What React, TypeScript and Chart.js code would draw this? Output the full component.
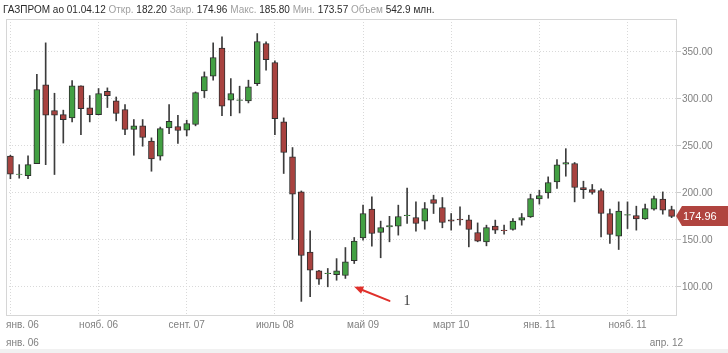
import { useEffect, useRef } from 'react';
import { Chart, registerables } from 'chart.js';

Chart.register(...registerables);

const months = [
  '01.06','02.06','03.06','04.06','05.06','06.06','07.06','08.06','09.06','10.06','11.06','12.06',
  '01.07','02.07','03.07','04.07','05.07','06.07','07.07','08.07','09.07','10.07','11.07','12.07',
  '01.08','02.08','03.08','04.08','05.08','06.08','07.08','08.08','09.08','10.08','11.08','12.08',
  '01.09','02.09','03.09','04.09','05.09','06.09','07.09','08.09','09.09','10.09','11.09','12.09',
  '01.10','02.10','03.10','04.10','05.10','06.10','07.10','08.10','09.10','10.10','11.10','12.10',
  '01.11','02.11','03.11','04.11','05.11','06.11','07.11','08.11','09.11','10.11','11.11','12.11',
  '01.12','02.12','03.12','04.12',
];

const openS = [
  239, 219.5, 218.4, 231, 315, 287.6, 283.3, 279.8, 313.8, 290.4, 283.3, 308,
  298, 288.7, 267.4, 271.3, 255, 239, 269, 270.6, 266.7, 272.7, 308.5, 324.1,
  354, 298.6, 298.4, 297.9, 316.3, 358.9, 338.7, 275.5, 238.3, 201, 136.9, 117,
  114.0, 112.8, 112, 127.7, 152, 182.6, 157.8, 163.8, 164.5, 175.6, 173.8, 169.9,
  192.9, 184.4, 171.3, 172, 171.3, 157.8, 147.9, 164.5, 160.4, 161, 170.9, 174.5,
  193.6, 200, 211.7, 230.5, 231.2, 205.7, 203.5, 202.5, 178, 153.9, 176.3, 175.9,
  172.3, 182.6, 193.3, 182.2,
];
const highS = [
  240, 230, 239.4, 326, 359.6, 306, 288, 319.5, 314, 303.5, 311, 311.7,
  302, 294, 278, 278, 258.5, 270, 294, 282.6, 277.3, 307.4, 328.7, 359.6,
  366, 321.6, 313.5, 319.9, 369.5, 360.6, 340.4, 279.8, 248.2, 202, 159.6, 117.5,
  119.5, 130, 141.8, 152.5, 186.9, 195.7, 169.9, 175, 186.9, 205, 190.4, 189.7,
  197.5, 195, 178, 185, 176.2, 168, 165.6, 171, 165.6, 172.7, 178, 198.6,
  202.8, 217, 235.5, 247, 232.3, 212.4, 208.9, 204.3, 182.6, 190.4, 190.4, 185.8,
  188, 196.5, 201, 185.8,
];
const lowS = [
  215, 215.6, 215, 231, 230, 219.5, 253, 275.5, 262, 275.5, 283, 290.8,
  276.6, 262, 240, 249.6, 223, 234.8, 263, 252.5, 260.6, 271.3, 301.4, 319.9,
  282, 282, 285, 295.7, 314.2, 330.5, 262, 220.6, 150.4, 84.5, 89.4, 102.5,
  100, 107, 108.9, 124.8, 149.6, 143.3, 130.9, 147.9, 155, 167.4, 159.2, 161.3,
  178, 162.8, 160.3, 165.6, 142.5, 147.9, 143.6, 156.7, 156, 160.3, 165.6, 173.8,
  188, 194.3, 204.6, 217.7, 190.4, 194, 198.6, 153.2, 146.1, 139.7, 162, 160.3,
  171.6, 181.6, 177.3, 173.57,
];
const closeS = [
  220, 219.9, 230, 310, 282.6, 282.6, 278, 313.8, 289.7, 283.3, 305.7, 303.5,
  284.4, 267.4, 271.3, 258.9, 236, 268.4, 276, 266.3, 273.8, 306.7, 323.8, 344,
  292.2, 305.7, 299, 312.8, 361, 341.8, 279, 242.9, 198.6, 133.3, 117.7, 108.2,
  114.6, 117, 126.6, 148.6, 178, 156.7, 163.1, 165.2, 174.8, 176.4, 167.4, 183.3,
  188.7, 168.4, 169.9, 171.2, 161, 148.6, 163.1, 160.3, 159.7, 169.9, 173.8, 194,
  197.2, 211, 229.8, 232.3, 205.7, 203.5, 200.4, 178, 155.7, 180.5, 176.9, 172.3,
  183.3, 194, 181.6, 174.96,
];

const xTickMonths = ['01.06', '11.06', '09.07', '07.08', '05.09', '03.10', '01.11', '11.11'];
const xTickText = ['янв. 06', 'нояб. 06', 'сент. 07', 'июль 08', 'май 09', 'март 10', 'янв. 11', 'нояб. 11'];
const yTicks = [100, 150, 200, 250, 300, 350];
const rangeStartText = 'янв. 06';
const rangeEndText = 'апр. 12';

const headerParts: [string, boolean][] = [
  ['ГАЗПРОМ ао 01.04.12 ', true],
  ['Откр. ', false],
  ['182.20 ', true],
  ['Закр. ', false],
  ['174.96 ', true],
  ['Макс. ', false],
  ['185.80 ', true],
  ['Мин. ', false],
  ['173.57 ', true],
  ['Объем ', false],
  ['542.9 млн.', true],
];

// annotation: arrow tail and label anchored to (month, value)
const noteText = '1';
const noteTip = { month: '04.09', value: 100 };
const noteTail = { month: '08.09', value: 85 };
const noteLabel = { month: '10.09', value: 85 };

const FONT = '"Liberation Sans", Arial, sans-serif';
const GREEN = '#43a043';
const RED = '#a8423f';
const GRID = '#d9d9d9';

const overlay = {
  id: 'overlay',
  beforeDraw(chart: any) {
    const c = chart.ctx;
    c.save();
    c.fillStyle = '#f1f1f1';
    c.fillRect(0, 349, chart.width, chart.height - 349);
    c.restore();
  },
  afterDraw(chart: any) {
    const c = chart.ctx;
    const a = chart.chartArea;
    const xs = chart.scales.x;
    const ys = chart.scales.y;
    c.save();
    // frame
    c.strokeStyle = '#d6d6d6';
    c.lineWidth = 1;
    c.strokeRect(Math.round(a.left) + 0.5, Math.round(a.top) + 0.5, Math.round(a.right - a.left), Math.round(a.bottom - a.top));

    // x tick labels
    c.font = '10px ' + FONT;
    c.fillStyle = '#808080';
    c.textBaseline = 'middle';
    c.textAlign = 'left';
    xTickMonths.forEach((m, i) => {
      const x = xs.getPixelForValue(months.indexOf(m));
      const t = xTickText[i];
      const w = c.measureText(t).width;
      let left = x - w / 2;
      if (left < a.left) left = a.left;
      c.fillText(t, left, a.bottom + 10);
    });
    // range labels
    c.fillText(rangeStartText, a.left, 343);
    c.textAlign = 'right';
    c.fillText(rangeEndText, a.right + 7, 343);

    // price tag
    const last = closeS[closeS.length - 1];
    const py = Math.round(ys.getPixelForValue(last));
    const tipX = a.right;
    c.fillStyle = '#b0443f';
    c.beginPath();
    c.moveTo(tipX, py);
    c.lineTo(tipX + 6, py - 10);
    c.lineTo(chart.width, py - 10);
    c.lineTo(chart.width, py + 10);
    c.lineTo(tipX + 6, py + 10);
    c.closePath();
    c.fill();
    c.fillStyle = '#ffffff';
    c.textAlign = 'left';
    c.font = '11px ' + FONT;
    c.fillText(last.toFixed(2), tipX + 7, py + 0.5);

    // annotation arrow
    const tx = xs.getPixelForValue(months.indexOf(noteTip.month));
    const ty = ys.getPixelForValue(noteTip.value);
    const sx = xs.getPixelForValue(months.indexOf(noteTail.month));
    const sy = ys.getPixelForValue(noteTail.value);
    const ang = Math.atan2(ty - sy, tx - sx);
    c.strokeStyle = '#e0302b';
    c.fillStyle = '#e0302b';
    c.lineWidth = 2;
    c.lineCap = 'round';
    c.beginPath();
    c.moveTo(sx, sy);
    c.lineTo(tx - 6 * Math.cos(ang), ty - 6 * Math.sin(ang));
    c.stroke();
    c.beginPath();
    c.moveTo(tx, ty);
    c.lineTo(tx - 9 * Math.cos(ang) + 4 * Math.sin(ang), ty - 9 * Math.sin(ang) - 4 * Math.cos(ang));
    c.lineTo(tx - 9 * Math.cos(ang) - 4 * Math.sin(ang), ty - 9 * Math.sin(ang) + 4 * Math.cos(ang));
    c.closePath();
    c.fill();
    const lx = xs.getPixelForValue(months.indexOf(noteLabel.month));
    const ly = ys.getPixelForValue(noteLabel.value);
    c.fillStyle = '#333333';
    c.font = '14px "Liberation Serif", "DejaVu Serif", serif';
    c.textAlign = 'center';
    c.fillText(noteText, lx, ly);
    c.restore();
  },
};

export default function App() {
  const ref = useRef<HTMLCanvasElement>(null);
  useEffect(() => {
    document.body.style.margin = '0';
    const up = closeS.map((cl, i) => cl >= openS[i]);
    const chart = new Chart(ref.current as HTMLCanvasElement, {
      type: 'bar',
      data: {
        labels: months,
        datasets: [
          {
            label: 'body',
            data: openS.map((o, i) => [o, closeS[i]]) as any,
            backgroundColor: up.map((u) => (u ? GREEN : RED)),
            borderColor: '#2e2e2e',
            borderWidth: 1,
            borderSkipped: false,
            barThickness: 6,
            grouped: false,
            order: 0,
          },
          {
            label: 'wick',
            data: lowS.map((l, i) => [l, highS[i]]) as any,
            backgroundColor: '#3c3c3c',
            borderWidth: 0,
            barThickness: 1,
            grouped: false,
            order: 1,
          },
        ],
      },
      options: {
        responsive: false,
        animation: false,
        layout: { autoPadding: false, padding: { left: 6, top: 19, right: 0, bottom: 38 } },
        plugins: { legend: { display: false }, tooltip: { enabled: false } },
        scales: {
          x: {
            type: 'category',
            offset: true,
            grid: {
              offset: false,
              drawTicks: false,
              color: (ctx: any) => (xTickMonths.includes(months[ctx.index]) ? GRID : 'rgba(0,0,0,0)'),
            },
            border: { display: false, dash: [1, 2] },
            ticks: { display: false, autoSkip: false },
          },
          y: {
            position: 'right',
            min: 70,
            max: 385,
            afterBuildTicks: (axis: any) => {
              axis.ticks = yTicks.map((v) => ({ value: v }));
            },
            afterFit: (axis: any) => {
              axis.width = 52;
            },
            grid: { color: GRID, drawTicks: true, tickLength: 5, tickColor: '#cccccc', tickBorderDash: [] },
            border: { display: false, dash: [1, 2] },
            ticks: {
              padding: 1,
              color: '#808080',
              font: { family: FONT, size: 10 },
              callback: (v: any) => Number(v).toFixed(2),
            },
          },
        },
      } as any,
      plugins: [overlay],
    });
    return () => chart.destroy();
  }, []);
  return (
    <div style={{ position: 'relative', width: 728, height: 353 }}>
      <canvas ref={ref} width={728} height={353} style={{ display: 'block' }} />
      <div
        style={{
          position: 'absolute',
          left: 3,
          top: 3,
          fontFamily: FONT,
          fontSize: 10,
          lineHeight: '14px',
          whiteSpace: 'nowrap',
        }}
      >
        {headerParts.map(([t, dark], i) => (
          <span key={i} style={{ color: dark ? '#2a2a2a' : '#a0a0a0' }}>
            {t}
          </span>
        ))}
      </div>
    </div>
  );
}
